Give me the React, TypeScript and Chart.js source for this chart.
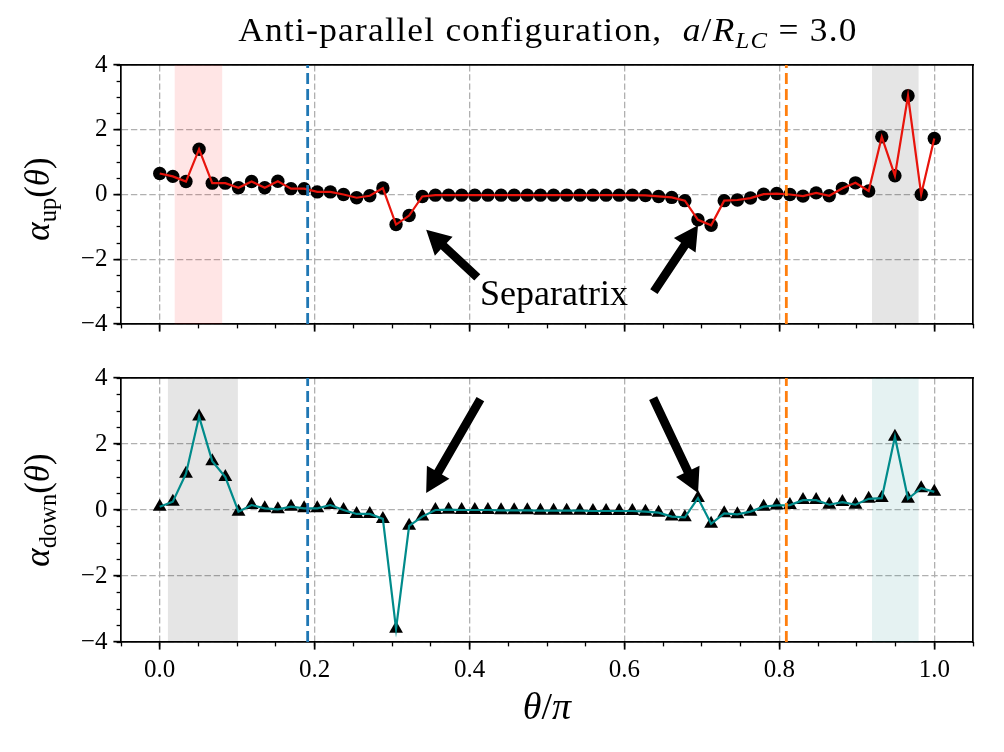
import { useEffect, useRef } from "react";
import { Chart, registerables } from "chart.js";

Chart.register(...registerables);

// θ/π sample positions (60 points on [0, 1])
const theta = [
  0.0, 0.0169, 0.0339, 0.0508, 0.0678, 0.0847, 0.1017, 0.1186, 0.1356, 0.1525,
  0.1695, 0.1864, 0.2034, 0.2203, 0.2373, 0.2542, 0.2712, 0.2881, 0.3051, 0.322,
  0.339, 0.3559, 0.3729, 0.3898, 0.4068, 0.4237, 0.4407, 0.4576, 0.4746, 0.4915,
  0.5085, 0.5254, 0.5424, 0.5593, 0.5763, 0.5932, 0.6102, 0.6271, 0.6441, 0.661,
  0.678, 0.6949, 0.7119, 0.7288, 0.7458, 0.7627, 0.7797, 0.7966, 0.8136, 0.8305,
  0.8475, 0.8644, 0.8814, 0.8983, 0.9153, 0.9322, 0.9492, 0.9661, 0.9831, 1.0,
];

const alphaUp = [
  0.65, 0.56, 0.4, 1.4, 0.35, 0.35, 0.21, 0.4, 0.21, 0.41,
  0.18, 0.18, 0.08, 0.08, 0.0, -0.1, -0.04, 0.2, -0.93, -0.65,
  -0.06, -0.02, -0.02, -0.02, -0.02, -0.02, -0.02, -0.02, -0.02, -0.02,
  -0.02, -0.02, -0.02, -0.02, -0.02, -0.02, -0.02, -0.03, -0.06, -0.09,
  -0.19, -0.78, -0.95, -0.19, -0.17, -0.11, 0.01, 0.03, 0.0, -0.05,
  0.05, -0.04, 0.19, 0.36, 0.11, 1.78, 0.58, 3.05, 0.0, 1.73,
];

const alphaDown = [
  0.1, 0.25, 1.1, 2.83, 1.48, 1.0, -0.05, 0.15, 0.05, 0.02,
  0.1, 0.05, 0.05, 0.15, 0.0, -0.12, -0.12, -0.27, -3.6, -0.48,
  -0.2, 0.0, 0.01, 0.0, 0.0, 0.0, -0.01, -0.01, -0.01, -0.02,
  -0.02, -0.02, -0.02, -0.03, -0.03, -0.03, -0.03, -0.05, -0.08, -0.2,
  -0.22, 0.36, -0.42, -0.1, -0.13, -0.05, 0.1, 0.14, 0.15, 0.3,
  0.3, 0.16, 0.24, 0.16, 0.34, 0.36, 2.22, 0.34, 0.66, 0.55,
];

// axis ranges and ticks
const xRange = [-0.05, 1.05];
const yRange = [-4, 4];
const xMajorStep = 0.2;
const xMinorStep = 0.05;
const yMajorStep = 2;
const yMinorStep = 0.5;

// vertical reference lines
const refLines = [0.191, 0.809];
const refLineColors = ["#1f77b4", "#ff7f0e"];

// shaded θ intervals
const upBands = [
  [0.019, 0.081],
  [0.9195, 0.98],
];
const upBandColors = ["rgba(255,0,0,0.1)", "rgba(0,0,0,0.1)"];
const downBands = [
  [0.0103, 0.101],
  [0.9195, 0.98],
];
const downBandColors = ["rgba(0,0,0,0.1)", "rgba(0,128,128,0.1)"];

// annotation arrows: [tailX, tailY, tipX, tipY] in data units
const upArrows = [
  [0.41, -2.56, 0.344, -1.09],
  [0.638, -3.0, 0.695, -0.95],
];
const downArrows = [
  [0.414, 3.36, 0.344, 0.515],
  [0.637, 3.39, 0.695, 0.515],
];
const annotationText = "Separatrix";
const annotationAt = [0.509, -3.42];

const FONT = "'Liberation Serif', 'DejaVu Serif', serif";
const GRID = "#b0b0b0";
const TICK_FONT = 25;

const minusFmt = (v: number | string) => {
  const n = Number(v);
  return n < 0 ? "\u2212" + Math.abs(n) : String(n);
};

function buildScales(showXLabels: boolean, xAxisHeight: number) {
  const dash = [6.4, 2.8];
  return {
    x: {
      type: "linear",
      axis: "x",
      position: "bottom",
      weight: 1,
      min: xRange[0],
      max: xRange[1],
      ticks: {
        display: showXLabels,
        stepSize: xMajorStep,
        includeBounds: false,
        autoSkip: false,
        maxRotation: 0,
        font: { family: FONT, size: TICK_FONT },
        color: "#000",
        padding: 6,
        callback: (v: number | string) => Number(v).toFixed(1),
      },
      grid: { color: GRID, lineWidth: 1.3, tickLength: 7.6, tickWidth: 1.7, tickColor: "#000" },
      border: { display: true, color: "#000", width: 1.7, dash },
      afterFit: (s: any) => {
        s.height = xAxisHeight;
      },
    },
    xMinor: {
      type: "linear",
      axis: "x",
      position: "bottom",
      weight: 0,
      min: xRange[0],
      max: xRange[1],
      ticks: { display: false, stepSize: xMinorStep, includeBounds: false },
      grid: { drawOnChartArea: false, tickLength: 4.4, tickWidth: 1.3, tickColor: "#000" },
      border: { display: false },
      afterFit: (s: any) => {
        s.height = 0;
      },
    },
    xTop: {
      type: "linear",
      axis: "x",
      position: "top",
      min: xRange[0],
      max: xRange[1],
      ticks: { display: false },
      grid: { display: false },
      border: { display: true, color: "#000", width: 1.7 },
      afterFit: (s: any) => {
        s.height = 0;
      },
    },
    y: {
      type: "linear",
      axis: "y",
      position: "left",
      weight: 1,
      min: yRange[0],
      max: yRange[1],
      ticks: {
        stepSize: yMajorStep,
        font: { family: FONT, size: TICK_FONT },
        color: "#000",
        padding: 6,
        callback: minusFmt,
      },
      grid: { color: GRID, lineWidth: 1.3, tickLength: 7.6, tickWidth: 1.7, tickColor: "#000" },
      border: { display: true, color: "#000", width: 1.7, dash },
      afterFit: (s: any) => {
        s.width = 121;
      },
    },
    yMinor: {
      type: "linear",
      axis: "y",
      position: "left",
      weight: 0,
      min: yRange[0],
      max: yRange[1],
      ticks: { display: false, stepSize: yMinorStep },
      grid: { drawOnChartArea: false, tickLength: 4.4, tickWidth: 1.3, tickColor: "#000" },
      border: { display: false },
      afterFit: (s: any) => {
        s.width = 0;
      },
    },
    yRight: {
      type: "linear",
      axis: "y",
      position: "right",
      min: yRange[0],
      max: yRange[1],
      ticks: { display: false },
      grid: { display: false },
      border: { display: true, color: "#000", width: 1.7 },
      afterFit: (s: any) => {
        s.width = 0;
      },
    },
  };
}

function bandDatasets(bands: number[][], colors: string[]) {
  return bands.map((b, i) => ({
    type: "line",
    data: [
      { x: b[0], y: yRange[1] },
      { x: b[1], y: yRange[1] },
    ],
    xAxisID: "x",
    yAxisID: "y",
    fill: { value: yRange[0] },
    backgroundColor: colors[i],
    borderWidth: 0,
    pointRadius: 0,
    order: 10,
  }));
}

function refLineDatasets() {
  return refLines.map((x, i) => ({
    type: "line",
    data: [
      { x, y: yRange[0] },
      { x, y: yRange[1] },
    ],
    xAxisID: "x",
    yAxisID: "y",
    borderColor: refLineColors[i],
    borderWidth: 2.8,
    borderDash: [11, 5],
    pointRadius: 0,
    fill: false,
    order: 0,
  }));
}

function drawArrow(ctx: CanvasRenderingContext2D, x1: number, y1: number, x2: number, y2: number) {
  const dx = x2 - x1;
  const dy = y2 - y1;
  const L = Math.hypot(dx, dy);
  const ux = dx / L;
  const uy = dy / L;
  const nx = -uy;
  const ny = ux;
  const hw = 4.4;
  const HW = 13;
  const HL = 24;
  const bx = x2 - ux * HL;
  const by = y2 - uy * HL;
  ctx.beginPath();
  ctx.moveTo(x1 + nx * hw, y1 + ny * hw);
  ctx.lineTo(bx + nx * hw, by + ny * hw);
  ctx.lineTo(bx + nx * HW, by + ny * HW);
  ctx.lineTo(x2, y2);
  ctx.lineTo(bx - nx * HW, by - ny * HW);
  ctx.lineTo(bx - nx * hw, by - ny * hw);
  ctx.lineTo(x1 - nx * hw, y1 - ny * hw);
  ctx.closePath();
  ctx.fillStyle = "#000";
  ctx.fill();
}

function annotationPlugin(arrows: number[][], withText: boolean) {
  return {
    id: "annotations",
    afterDatasetsDraw(chart: any) {
      const { ctx, scales } = chart;
      const sx = scales.x;
      const sy = scales.y;
      ctx.save();
      arrows.forEach((a) => {
        drawArrow(
          ctx,
          sx.getPixelForValue(a[0]),
          sy.getPixelForValue(a[1]),
          sx.getPixelForValue(a[2]),
          sy.getPixelForValue(a[3])
        );
      });
      if (withText) {
        ctx.font = `36px ${FONT}`;
        ctx.fillStyle = "#000";
        ctx.textAlign = "center";
        ctx.textBaseline = "alphabetic";
        ctx.fillText(
          annotationText,
          sx.getPixelForValue(annotationAt[0]),
          sy.getPixelForValue(annotationAt[1])
        );
      }
      ctx.restore();
    },
  };
}

function makeChart(
  canvas: HTMLCanvasElement,
  values: number[],
  lineColor: string,
  pointStyle: string,
  pointRadius: number,
  bands: number[][],
  bandColors: string[],
  arrows: number[][],
  withText: boolean,
  showXLabels: boolean,
  xAxisHeight: number,
  padding: { top: number; right: number; bottom: number; left: number }
) {
  const pts = theta.map((t, i) => ({ x: t, y: values[i] }));
  return new Chart(canvas, {
    type: "line",
    data: {
      datasets: [
        ...bandDatasets(bands, bandColors),
        {
          type: "line",
          data: pts,
          xAxisID: "x",
          yAxisID: "y",
          showLine: false,
          pointStyle,
          pointRadius,
          pointBackgroundColor: "#000",
          pointBorderColor: "#000",
          pointBorderWidth: 0,
          order: 3,
        },
        {
          type: "line",
          data: pts,
          xAxisID: "x",
          yAxisID: "y",
          borderColor: lineColor,
          borderWidth: 2.2,
          pointRadius: 0,
          fill: false,
          tension: 0,
          order: 2,
        },
        ...refLineDatasets(),
      ] as any,
    },
    options: {
      animation: false,
      responsive: false,
      devicePixelRatio: 1,
      events: [],
      layout: { padding, autoPadding: false },
      plugins: {
        legend: { display: false },
        tooltip: { enabled: false },
        title: { display: false },
      },
      scales: buildScales(showXLabels, xAxisHeight) as any,
    },
    plugins: [annotationPlugin(arrows, withText)],
  });
}

const TOP_H = 345;
const BOT_H = 407;

export default function App() {
  const topRef = useRef<HTMLCanvasElement>(null);
  const botRef = useRef<HTMLCanvasElement>(null);

  useEffect(() => {
    const top = makeChart(
      topRef.current!,
      alphaUp,
      "#e8140c",
      "circle",
      6.7,
      upBands,
      upBandColors,
      upArrows,
      true,
      false,
      10,
      { top: 65, right: 31, bottom: TOP_H - 329 - 10, left: 0 }
    );
    const bottom = makeChart(
      botRef.current!,
      alphaDown,
      "#008b8b",
      "triangle",
      8,
      downBands,
      downBandColors,
      downArrows,
      false,
      true,
      45,
      { top: 378 - TOP_H, right: 31, bottom: BOT_H - (642 - TOP_H) - 45, left: 0 }
    );
    return () => {
      top.destroy();
      bottom.destroy();
    };
  }, []);

  const math = { fontStyle: "italic" as const };
  const sub = {
    fontSize: "0.7em",
    position: "relative" as const,
    top: "0.3em",
    lineHeight: 0,
  };

  return (
    <div
      style={{
        position: "absolute",
        left: 0,
        top: 0,
        width: 1004,
        height: 752,
        background: "#fff",
        fontFamily: FONT,
        color: "#000",
        overflow: "hidden",
      }}
    >
      <canvas ref={topRef} width={1004} height={TOP_H} style={{ position: "absolute", left: 0, top: 0 }} />
      <canvas ref={botRef} width={1004} height={BOT_H} style={{ position: "absolute", left: 0, top: TOP_H }} />

      <div
        style={{
          position: "absolute",
          left: 548,
          top: 14,
          transform: "translateX(-50%) scaleX(1.07)",
          fontSize: 33,
          letterSpacing: 1.2,
          lineHeight: 1,
          whiteSpace: "nowrap",
        }}
      >
        Anti-parallel configuration,&nbsp;&nbsp;
        <span style={math}>a</span>/<span style={math}>R</span>
        <span style={{ ...sub, ...math }}>LC</span> = 3.0
      </div>

      <div
        style={{
          position: "absolute",
          left: 37,
          top: 199,
          transform: "translate(-50%, -50%) rotate(-90deg)",
          fontSize: 35,
          lineHeight: 1,
          whiteSpace: "nowrap",
        }}
      >
        <span style={math}>α</span>
        <span style={sub}>up</span>(<span style={math}>θ</span>)
      </div>

      <div
        style={{
          position: "absolute",
          left: 37,
          top: 510,
          transform: "translate(-50%, -50%) rotate(-90deg)",
          fontSize: 35,
          lineHeight: 1,
          whiteSpace: "nowrap",
        }}
      >
        <span style={math}>α</span>
        <span style={sub}>down</span>(<span style={math}>θ</span>)
      </div>

      <div
        style={{
          position: "absolute",
          left: 547,
          top: 687,
          transform: "translateX(-50%)",
          fontSize: 38,
          lineHeight: 1,
          whiteSpace: "nowrap",
        }}
      >
        <span style={math}>θ</span>/<span style={math}>π</span>
      </div>
    </div>
  );
}
